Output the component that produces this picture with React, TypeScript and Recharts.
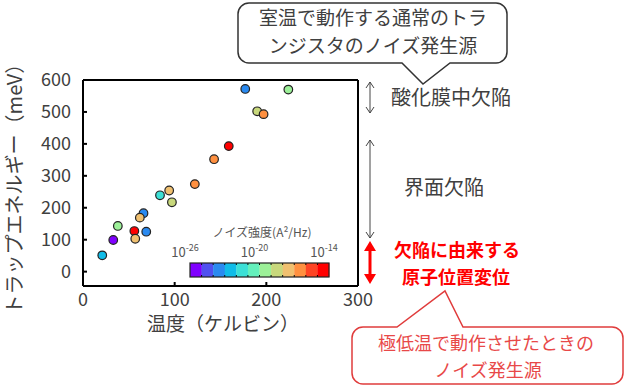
import React from 'react';
import { ScatterChart, Scatter, XAxis, YAxis, Cell } from 'recharts';

// 温度 (K), トラップエネルギー (meV), ノイズ強度のカラービン (0..11)
const temperatures = [177, 224, 190, 197, 159, 143, 122, 94, 84, 97, 66, 62, 38, 56, 69, 57, 33, 21];
const trapEnergies = [572, 570, 502, 493, 393, 352, 274, 254, 239, 217, 183, 169, 143, 127, 125, 103, 99, 51];
const noiseBins = [2, 6, 7, 9, 11, 9, 9, 8, 4, 7, 2, 8, 6, 11, 2, 8, 0, 3];

const colorMap = [
  '#8000ff', '#5050f0', '#2a8af0', '#10bce8', '#3ce0d6', '#64f0bc',
  '#9cf098', '#c8d87c', '#f0c070', '#ff9040', '#ff4424', '#ff0000',
];
const colorTicks = ['-26', '-20', '-14'];

const xTicks = [0, 100, 200, 300];
const yTicks = [0, 100, 200, 300, 400, 500, 600];

const points = temperatures.map((t, i) => ({ t, e: trapEnergies[i], bin: noiseBins[i] }));

const FONT = '"Noto Sans CJK JP", "Noto Sans", sans-serif';
const TEXT = '#404040';

const BottomTick = ({ x, y, payload }: any) => (
  <g>
    <line x1={x} y1={y} x2={x} y2={y - 4} stroke="#000" strokeWidth={2} />
    <text x={x} y={y + 20} textAnchor="middle" fontSize={18} fill={TEXT} fontFamily={FONT}>
      {payload.value}
    </text>
  </g>
);
const LeftTick = ({ x, y, payload }: any) => (
  <g>
    <line x1={x} y1={y} x2={x + 4} y2={y} stroke="#000" strokeWidth={2} />
    <text x={x - 12} y={y + 6} textAnchor="end" fontSize={18} fill={TEXT} fontFamily={FONT}>
      {payload.value}
    </text>
  </g>
);
const TopTick = ({ x, y }: any) => <line x1={x} y1={y} x2={x} y2={y + 4} stroke="#000" strokeWidth={2} />;
const RightTick = ({ x, y }: any) => <line x1={x} y1={y} x2={x - 4} y2={y} stroke="#000" strokeWidth={2} />;

const Dot = (props: any) => (
  <circle cx={props.cx} cy={props.cy} r={4.3} fill={props.fill} stroke="#222" strokeWidth={1.2} />
);

// 吹き出し (角丸の四角 + 三角の口)
function bubble(x0: number, y0: number, x1: number, y1: number, r: number, tail: number[], up: boolean) {
  const [a, tx, ty, b] = tail;
  if (up) {
    return `M${x0 + r},${y0} H${a} L${tx},${ty} L${b},${y0} H${x1 - r} A${r},${r} 0 0 1 ${x1},${y0 + r} V${y1 - r} A${r},${r} 0 0 1 ${x1 - r},${y1} H${x0 + r} A${r},${r} 0 0 1 ${x0},${y1 - r} V${y0 + r} A${r},${r} 0 0 1 ${x0 + r},${y0} Z`;
  }
  return `M${x0 + r},${y0} H${x1 - r} A${r},${r} 0 0 1 ${x1},${y0 + r} V${y1 - r} A${r},${r} 0 0 1 ${x1 - r},${y1} H${b} L${tx},${ty} L${a},${y1} H${x0 + r} A${r},${r} 0 0 1 ${x0},${y1 - r} V${y0 + r} A${r},${r} 0 0 1 ${x0 + r},${y0} Z`;
}

const Overlay = () => {
  const cbX = 190;
  const cbY = 263;
  const cbW = 139;
  const cbH = 14;
  const cw = cbW / colorMap.length;
  return (
    <svg width={625} height={390} style={{ position: 'absolute', left: 0, top: 0, pointerEvents: 'none' }} fontFamily={FONT}>
      {/* axis titles */}
      <text x={223} y={331} textAnchor="middle" fontSize={19} fill={TEXT}>温度（ケルビン）</text>
      <text transform="translate(22,184) rotate(-90)" textAnchor="middle" fontSize={20} fill={TEXT}>トラップエネルギー（meV）</text>

      {/* colorbar */}
      <text x={262} y={237} textAnchor="middle" fontSize={12} fill="#555">ノイズ強度(A²/Hz)</text>
      {colorTicks.map((p, i) => (
        <text key={p} x={cbX + (cbW * i) / 2 - 5} y={257} textAnchor="middle" fontSize={13} fill="#555">
          10<tspan dy={-6} fontSize={9}>{p}</tspan>
        </text>
      ))}
      {colorMap.map((c, i) => (
        <rect key={c} x={cbX + i * cw} y={cbY} width={cw + 0.3} height={cbH} fill={c} />
      ))}
      {colorMap.slice(1).map((c, i) => (
        <g key={'d' + c}>
          <line x1={cbX + (i + 1) * cw} y1={cbY} x2={cbX + (i + 1) * cw} y2={cbY + 2} stroke="#000" strokeWidth={1} />
          <line x1={cbX + (i + 1) * cw} y1={cbY + cbH - 2} x2={cbX + (i + 1) * cw} y2={cbY + cbH} stroke="#000" strokeWidth={1} />
        </g>
      ))}
      <rect x={cbX} y={cbY} width={cbW} height={cbH} fill="none" stroke="#222" strokeWidth={1.2} />

      {/* right side annotations */}
      <g stroke="#444" strokeWidth={1} fill="none">
        <line x1={370} y1={82} x2={370} y2={113} />
        <polyline points="366,88 370,82 374,88" />
        <polyline points="366,107 370,113 374,107" />
        <line x1={370} y1={140} x2={370} y2={238} />
        <polyline points="366,146 370,140 374,146" />
        <polyline points="366,232 370,238 374,232" />
      </g>
      <text x={451} y={105} textAnchor="middle" fontSize={20} fill={TEXT}>酸化膜中欠陥</text>
      <text x={444} y={195} textAnchor="middle" fontSize={20} fill={TEXT}>界面欠陥</text>

      <line x1={370} y1={247} x2={370} y2={278} stroke="#ff0000" strokeWidth={3} />
      <polygon points="364,251 370,241 376,251" fill="#ff0000" />
      <polygon points="364,274 370,284 376,274" fill="#ff0000" />
      <text x={457} y={257} textAnchor="middle" fontSize={18} fontWeight="bold" fill="#ff0000">欠陥に由来する</text>
      <text x={456} y={284} textAnchor="middle" fontSize={18} fontWeight="bold" fill="#ff0000">原子位置変位</text>

      {/* callouts */}
      <path d={bubble(238, 3, 507, 63, 11, [402, 423, 84, 450], false)} fill="#fff" stroke="#333" strokeWidth={1.5} />
      <text x={373} y={25} textAnchor="middle" fontSize={19} fill={TEXT}>室温で動作する通常のトラ</text>
      <text x={373} y={53} textAnchor="middle" fontSize={19} fill={TEXT}>ンジスタのノイズ発生源</text>

      <path d={bubble(352, 327, 623, 384, 11, [397, 445, 291, 463], true)} fill="#fff" stroke="#e03c3c" strokeWidth={1.5} />
      <text x={486} y={350} textAnchor="middle" fontSize={18} fill="#e84848">極低温で動作させたときの</text>
      <text x={488} y={377} textAnchor="middle" fontSize={18} fill="#e84848">ノイズ発生源</text>
    </svg>
  );
};

export default function App() {
  return (
    <div style={{ position: 'absolute', left: 0, top: 0, width: 625, height: 390, background: '#fff' }}>
      <ScatterChart width={625} height={390} margin={{ top: 79, right: 266, bottom: 64, left: 0 }}>
        <XAxis
          xAxisId="b"
          type="number"
          dataKey="t"
          domain={[0, 300]}
          ticks={xTicks}
          height={40}
          tickSize={0}
          tickMargin={0}
          tickLine={false}
          axisLine={{ stroke: '#000', strokeWidth: 2 }}
          tick={<BottomTick />}
        />
        <XAxis
          xAxisId="t"
          orientation="top"
          type="number"
          domain={[0, 300]}
          ticks={xTicks}
          height={1}
          tickSize={0}
          tickMargin={0}
          tickLine={false}
          axisLine={{ stroke: '#000', strokeWidth: 2 }}
          tick={<TopTick />}
        />
        <YAxis
          yAxisId="l"
          type="number"
          dataKey="e"
          domain={[-45, 600]}
          ticks={yTicks}
          width={83}
          tickSize={0}
          tickMargin={0}
          tickLine={false}
          axisLine={{ stroke: '#000', strokeWidth: 2 }}
          tick={<LeftTick />}
        />
        <YAxis
          yAxisId="r"
          orientation="right"
          type="number"
          domain={[-45, 600]}
          ticks={yTicks}
          width={1}
          tickSize={0}
          tickMargin={0}
          tickLine={false}
          axisLine={{ stroke: '#000', strokeWidth: 2 }}
          tick={<RightTick />}
        />
        <Scatter data={points} xAxisId="b" yAxisId="l" shape={<Dot />} isAnimationActive={false}>
          {points.map((p, i) => (
            <Cell key={i} fill={colorMap[p.bin]} />
          ))}
        </Scatter>
      </ScatterChart>
      <Overlay />
    </div>
  );
}
